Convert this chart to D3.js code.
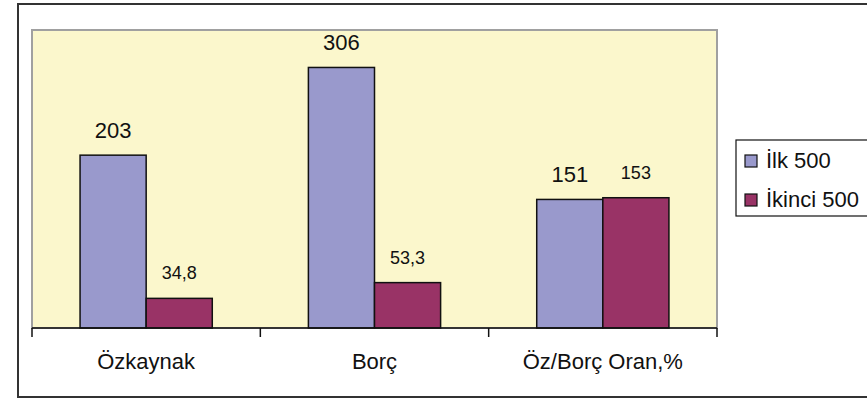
<!DOCTYPE html>
<html>
<head>
<meta charset="utf-8">
<script src="https://cdn.jsdelivr.net/npm/d3@7/dist/d3.min.js"></script>
<style>
  html, body { margin: 0; padding: 0; background: #ffffff; }
  svg { display: block; font-family: "Liberation Sans", Arial, sans-serif; }
</style>
</head>
<body>
<svg id="chart" width="867" height="400"></svg>
<script>
// Categories, series and their value labels
const categories = ["Özkaynak", "Borç", "Öz/Borç Oran,%"];
const seriesNames = ["İlk 500", "İkinci 500"];
const ilk500 = [203, 306, 151];
const ikinci500 = [34.8, 53.3, 153];
const ilk500Labels = ["203", "306", "151"];
const ikinci500Labels = ["34,8", "53,3", "153"];
const seriesColors = ["#9999cc", "#993366"];

const svg = d3.select("#chart");

// Outer frame (right side runs off the page)
svg.append("rect")
  .attr("x", 18).attr("y", 4)
  .attr("width", 900).attr("height", 393)
  .attr("fill", "none")
  .attr("stroke", "#333")
  .attr("stroke-width", 2);

const plot = { left: 32, top: 30, right: 717, bottom: 328 };

const x = d3.scaleBand()
  .domain(categories)
  .range([plot.left, plot.right]);

const x1 = d3.scaleBand()
  .domain(seriesNames)
  .range([0, x.bandwidth()])
  .paddingOuter(0.727)
  .paddingInner(0);

const y = d3.scaleLinear()
  .domain([0, 350])
  .range([plot.bottom, plot.top]);

// Plot area
svg.append("rect")
  .attr("x", plot.left).attr("y", plot.top)
  .attr("width", plot.right - plot.left)
  .attr("height", plot.bottom - plot.top)
  .attr("fill", "#fbf7cc")
  .attr("stroke", "#a0a0a0")
  .attr("stroke-width", 2);

// Bars
const rows = categories.map((c, i) => ({
  cat: c,
  vals: [
    { s: seriesNames[0], v: ilk500[i], label: ilk500Labels[i], color: seriesColors[0] },
    { s: seriesNames[1], v: ikinci500[i], label: ikinci500Labels[i], color: seriesColors[1] }
  ]
}));

const groups = svg.append("g").selectAll("g")
  .data(rows)
  .join("g")
  .attr("transform", d => `translate(${x(d.cat)},0)`);

groups.selectAll("rect")
  .data(d => d.vals)
  .join("rect")
  .attr("x", d => x1(d.s))
  .attr("y", d => y(d.v))
  .attr("width", x1.bandwidth())
  .attr("height", d => y(0) - y(d.v))
  .attr("fill", d => d.color)
  .attr("stroke", "#111")
  .attr("stroke-width", 1.5);

groups.selectAll("text")
  .data(d => d.vals)
  .join("text")
  .attr("x", d => x1(d.s) + x1.bandwidth() / 2)
  .attr("y", (d, i) => y(d.v) - (i === 0 ? 17 : 19))
  .attr("text-anchor", "middle")
  .attr("font-size", (d, i) => i === 0 ? 22 : 18)
  .attr("fill", "#111")
  .text(d => d.label);

// Category axis: baseline plus separators between categories
const axisG = svg.append("g")
  .attr("transform", `translate(0,${plot.bottom})`);
axisG.append("line")
  .attr("x1", plot.left).attr("x2", plot.right)
  .attr("y1", 0).attr("y2", 0)
  .attr("stroke", "#111").attr("stroke-width", 1.5);
const boundaries = categories.map(c => x(c)).concat([x(categories[categories.length - 1]) + x.bandwidth()]);
axisG.selectAll("line.sep")
  .data(boundaries)
  .join("line")
  .attr("class", "sep")
  .attr("x1", d => d).attr("x2", d => d)
  .attr("y1", 0).attr("y2", 9)
  .attr("stroke", "#111").attr("stroke-width", 1.5);

svg.append("g").selectAll("text")
  .data(categories)
  .join("text")
  .attr("x", d => x(d) + x.bandwidth() / 2)
  .attr("y", 369)
  .attr("text-anchor", "middle")
  .attr("font-size", 22)
  .attr("fill", "#111")
  .text(d => d);

// Legend
const legend = svg.append("g");
legend.append("rect")
  .attr("x", 736).attr("y", 140)
  .attr("width", 160).attr("height", 76)
  .attr("fill", "#fff")
  .attr("stroke", "#111")
  .attr("stroke-width", 1.2);
const items = legend.selectAll("g")
  .data(seriesNames)
  .join("g")
  .attr("transform", (d, i) => `translate(745,${155 + i * 39})`);
items.append("rect")
  .attr("width", 12).attr("height", 12)
  .attr("fill", (d, i) => seriesColors[i])
  .attr("stroke", "#111")
  .attr("stroke-width", 1.2);
items.append("text")
  .attr("x", 21).attr("y", 13)
  .attr("font-size", 22)
  .attr("fill", "#111")
  .text(d => d);
</script>
</body>
</html>
